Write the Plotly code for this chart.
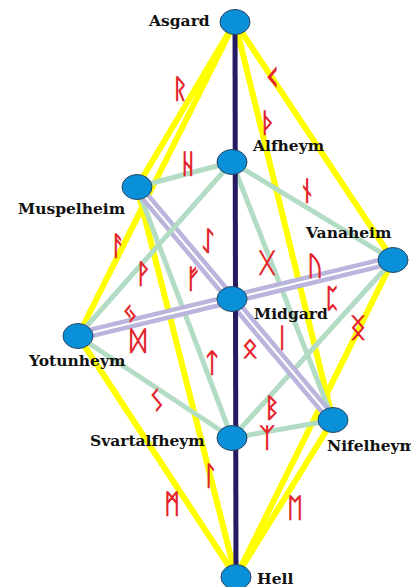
import plotly.graph_objects as go

# Nodes (position in the diagram plane, pixel-like units, y downward)
nodes = ["Asgard", "Alfheym", "Muspelheim", "Vanaheim", "Midgard",
         "Yotunheym", "Nifelheym", "Svartalfheym", "Hell"]
node_x = [235, 232, 137, 393, 232, 78, 333, 232, 236]
node_y = [22, 162, 187, 260, 299, 336, 420, 438, 577]

# Edges by type
yellow_edges = [("Asgard", "Muspelheim"), ("Asgard", "Yotunheym"),
                ("Asgard", "Vanaheim"), ("Asgard", "Nifelheym"),
                ("Muspelheim", "Hell"), ("Yotunheym", "Hell"),
                ("Vanaheim", "Hell"), ("Nifelheym", "Hell")]
green_edges = [("Alfheym", "Muspelheim"), ("Alfheym", "Vanaheim"),
               ("Alfheym", "Nifelheym"), ("Muspelheim", "Svartalfheym"),
               ("Yotunheym", "Svartalfheym"), ("Vanaheim", "Svartalfheym"),
               ("Nifelheym", "Svartalfheym")]
green_top_edges = [("Alfheym", "Yotunheym")]
double_edges = [("Muspelheim", "Nifelheym"), ("Yotunheym", "Vanaheim")]
trunk_edges = [("Asgard", "Hell")]

# Runes and their positions
runes = ["ᚱ", "ᚲ", "ᚦ", "ᚺ", "ᚾ", "ᚨ", "ᚹ", "ᛇ", "ᚠ", "ᚷ", "ᚢ", "ᛈ",
         "ᛝ", "ᛃ", "ᛞ", "ᛁ", "ᛟ", "ᛏ", "ᛊ", "ᛒ", "ᛉ", "ᛚ", "ᛗ", "ᛖ"]
rune_x = [180, 272, 268, 188, 307, 118, 143, 208, 193, 267, 315, 332,
          358, 130, 138, 282, 250, 212, 157, 272, 267, 210, 172, 295]
rune_y = [88, 77, 122, 163, 190, 245, 273, 240, 278, 262, 265, 297,
          327, 312, 340, 337, 347, 362, 400, 407, 437, 475, 503, 507]

# Label placement (anchor side per node)
label_x = [212, 250, 128, 303, 252, 128, 325, 207, 255]
label_y = [20, 145, 208, 232, 313, 360, 445, 440, 578]
label_anchor = ["right", "left", "right", "left", "left", "right", "left", "right", "left"]

# style: glyphs that are drawn small in the font get a larger size
RUNE_SIZE = 27
RUNE_SIZE_OVERRIDE = {"ᚲ": 40}

pos = {n: (x, y) for n, x, y in zip(nodes, node_x, node_y)}


def edge_xy(edges):
    xs, ys = [], []
    for a, b in edges:
        xs += [pos[a][0], pos[b][0], None]
        ys += [pos[a][1], pos[b][1], None]
    return xs, ys


fig = go.Figure()


def add_lines(edges, color, width):
    xs, ys = edge_xy(edges)
    fig.add_trace(go.Scatter(x=xs, y=ys, mode="lines",
                             line=dict(color=color, width=width),
                             hoverinfo="skip", showlegend=False))


add_lines(yellow_edges, "#ffff00", 6)
add_lines(green_edges, "#b3dcc4", 5)
add_lines(double_edges, "#b9b5dd", 11)
add_lines(double_edges, "#ffffff", 2)
add_lines(green_top_edges, "#b3dcc4", 5)
add_lines(trunk_edges, "#261a60", 5)

# Nodes as ellipses
for x, y in zip(node_x, node_y):
    fig.add_shape(type="circle", xref="x", yref="y",
                  x0=x - 15, x1=x + 15, y0=y - 12.5, y1=y + 12.5,
                  fillcolor="#0a8fd9", line=dict(color="#2b4660", width=1),
                  layer="above")

for r, x, y in zip(runes, rune_x, rune_y):
    fig.add_annotation(x=x, y=y, text="<b>%s</b>" % r, showarrow=False,
                       font=dict(family="DejaVu Sans, Noto Sans",
                                 size=RUNE_SIZE_OVERRIDE.get(r, RUNE_SIZE),
                                 color="#e3252b"),
                       xanchor="center", yanchor="middle")

for n, x, y, a in zip(nodes, label_x, label_y, label_anchor):
    fig.add_annotation(x=x, y=y, text="<b>%s</b>" % n, showarrow=False,
                       font=dict(family="DejaVu Serif", size=15.5, color="#111111"),
                       xanchor=a, yanchor="middle")

# The page body has an 8px margin; shift the axis ranges so the
# diagram coordinates line up with the window pixels.
fig.update_layout(
    width=419, height=587,
    margin=dict(l=0, r=0, t=0, b=0),
    paper_bgcolor="white", plot_bgcolor="white",
    xaxis=dict(range=[8, 427], visible=False, fixedrange=True),
    yaxis=dict(range=[595, 8], visible=False, fixedrange=True),
    showlegend=False,
)

fig.write_html("out.html")
